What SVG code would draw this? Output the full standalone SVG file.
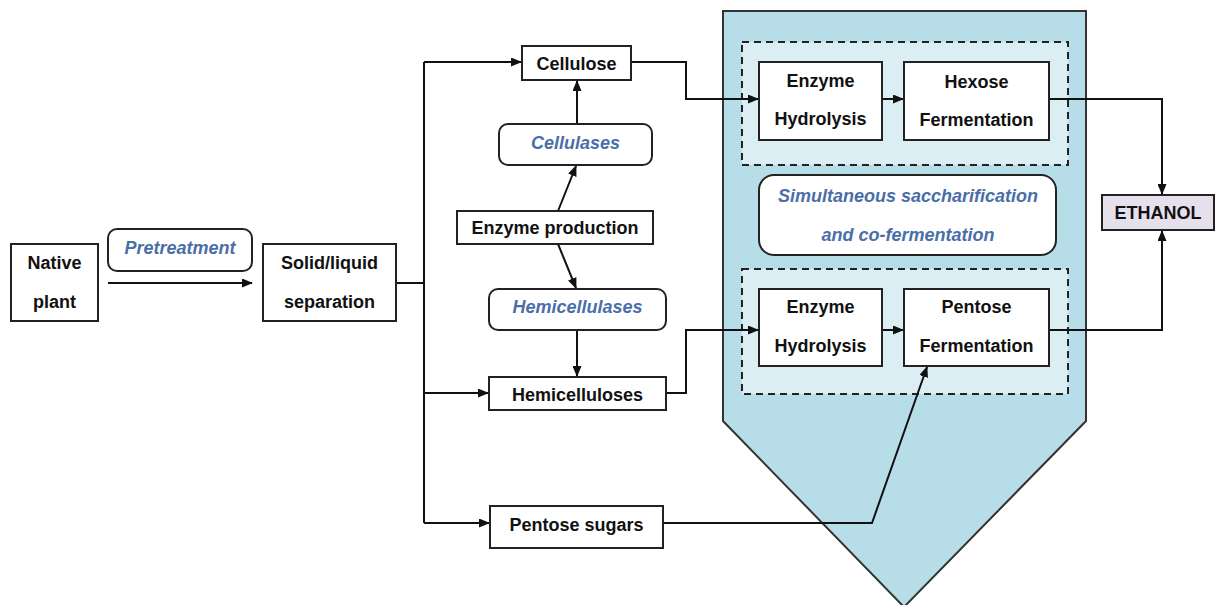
<svg xmlns="http://www.w3.org/2000/svg" width="1216" height="605" viewBox="0 0 1216 605">
  <defs>
    <marker id="arr" markerUnits="userSpaceOnUse" markerWidth="11" markerHeight="9" refX="10" refY="4.5" orient="auto">
      <path d="M0,0 L11,4.5 L0,9 z" fill="#111"/>
    </marker>
    <style>
      .box { fill: #fff; stroke: #222; stroke-width: 2; }
      .rbox { fill: #fff; stroke: #222; stroke-width: 2; }
      .dash { fill: #daeef3; stroke: #222; stroke-width: 2; stroke-dasharray: 7 5; }
      .t { font-family: "Liberation Sans", Arial, sans-serif; font-weight: bold; font-size: 18px; fill: #111; text-anchor: middle; dominant-baseline: central; }
      .ti { font-family: "Liberation Sans", Arial, sans-serif; font-weight: bold; font-style: italic; font-size: 18px; fill: #4a6ea8; text-anchor: middle; dominant-baseline: central; }
      .c { fill: none; stroke: #111; stroke-width: 2; }
      .ca { fill: none; stroke: #111; stroke-width: 2; marker-end: url(#arr); }
    </style>
  </defs>

  <!-- SSCF reactor vessel -->
  <g id="reactor">
    <path d="M723,11 L1086,11 L1086,421 L904,607 L723,421 Z" fill="#b7dde8" stroke="#333" stroke-width="2"/>
  </g>

  <!-- Hexose stage -->
  <g id="hexose-stage">
    <rect class="dash" x="742" y="42" width="326" height="123"/>
  </g>
  <!-- Pentose stage -->
  <g id="pentose-stage">
    <rect class="dash" x="742" y="269" width="326" height="125"/>
  </g>

  <!-- Connectors -->
  <g id="connectors">
    <line class="ca" x1="108" y1="283" x2="252" y2="283"/>
    <polyline class="c" points="396,283 424,283"/>
    <polyline class="c" points="424,62 424,523"/>
    <line class="ca" x1="424" y1="62" x2="521" y2="62"/>
    <line class="ca" x1="424" y1="393" x2="488" y2="393"/>
    <line class="ca" x1="424" y1="523" x2="489" y2="523"/>
    <line class="ca" x1="577" y1="124" x2="577" y2="81"/>
    <line class="ca" x1="558" y1="211" x2="576" y2="166"/>
    <line class="ca" x1="558" y1="244" x2="576" y2="288"/>
    <line class="ca" x1="577" y1="330" x2="577" y2="376"/>
    <polyline class="ca" points="631,62 686,62 686,99 758,99"/>
    <polyline class="ca" points="666,393 686,393 686,330 758,330"/>
    <line class="ca" x1="882" y1="99" x2="903" y2="99"/>
    <line class="ca" x1="882" y1="330" x2="903" y2="330"/>
    <polyline class="ca" points="663,523 872,523 927,367"/>
    <polyline class="ca" points="1049,99 1162,99 1162,194"/>
    <polyline class="ca" points="1049,330 1162,330 1162,231"/>
  </g>

  <g id="native-plant">
    <rect class="box" x="11" y="244" width="87" height="77"/>
    <text class="t" x="54.5" y="263">Native</text>
    <text class="t" x="54.5" y="302">plant</text>
  </g>

  <g id="pretreatment">
    <rect class="rbox" x="108" y="229" width="144" height="42" rx="9"/>
    <text class="ti" x="180" y="248">Pretreatment</text>
  </g>

  <g id="separation">
    <rect class="box" x="263" y="244" width="133" height="77"/>
    <text class="t" x="329.5" y="263">Solid/liquid</text>
    <text class="t" x="329.5" y="302">separation</text>
  </g>

  <g id="cellulose">
    <rect class="box" x="522" y="46" width="109" height="34"/>
    <text class="t" x="576.5" y="64">Cellulose</text>
  </g>

  <g id="cellulases">
    <rect class="rbox" x="499" y="124" width="153" height="41" rx="9"/>
    <text class="ti" x="575.5" y="143">Cellulases</text>
  </g>

  <g id="enzyme-production">
    <rect class="box" x="457" y="211" width="196" height="33"/>
    <text class="t" x="555" y="228">Enzyme production</text>
  </g>

  <g id="hemicellulases">
    <rect class="rbox" x="489" y="289" width="177" height="41" rx="9"/>
    <text class="ti" x="577.5" y="307">Hemicellulases</text>
  </g>

  <g id="hemicelluloses">
    <rect class="box" x="489" y="377" width="177" height="33"/>
    <text class="t" x="577.5" y="395">Hemicelluloses</text>
  </g>

  <g id="pentose-sugars">
    <rect class="box" x="490" y="506" width="173" height="42"/>
    <text class="t" x="576.5" y="525">Pentose sugars</text>
  </g>

  <g id="hydrolysis-hexose">
    <rect class="box" x="759" y="62" width="123" height="78"/>
    <text class="t" x="820.5" y="81">Enzyme</text>
    <text class="t" x="820.5" y="119">Hydrolysis</text>
  </g>

  <g id="hexose-fermentation">
    <rect class="box" x="904" y="62" width="145" height="78"/>
    <text class="t" x="976.5" y="82">Hexose</text>
    <text class="t" x="976.5" y="120">Fermentation</text>
  </g>

  <g id="sscf-label">
    <rect class="rbox" x="759" y="175" width="297" height="80" rx="15"/>
    <text class="ti" x="908" y="196">Simultaneous saccharification</text>
    <text class="ti" x="908" y="235">and co-fermentation</text>
  </g>

  <g id="hydrolysis-pentose">
    <rect class="box" x="759" y="289" width="123" height="77"/>
    <text class="t" x="820.5" y="307">Enzyme</text>
    <text class="t" x="820.5" y="346">Hydrolysis</text>
  </g>

  <g id="pentose-fermentation">
    <rect class="box" x="904" y="289" width="145" height="77"/>
    <text class="t" x="976.5" y="307">Pentose</text>
    <text class="t" x="976.5" y="346">Fermentation</text>
  </g>

  <g id="ethanol">
    <rect x="1102" y="195" width="112" height="35" fill="#e6e0ec" stroke="#222" stroke-width="2"/>
    <text class="t" x="1158" y="213">ETHANOL</text>
  </g>
</svg>
